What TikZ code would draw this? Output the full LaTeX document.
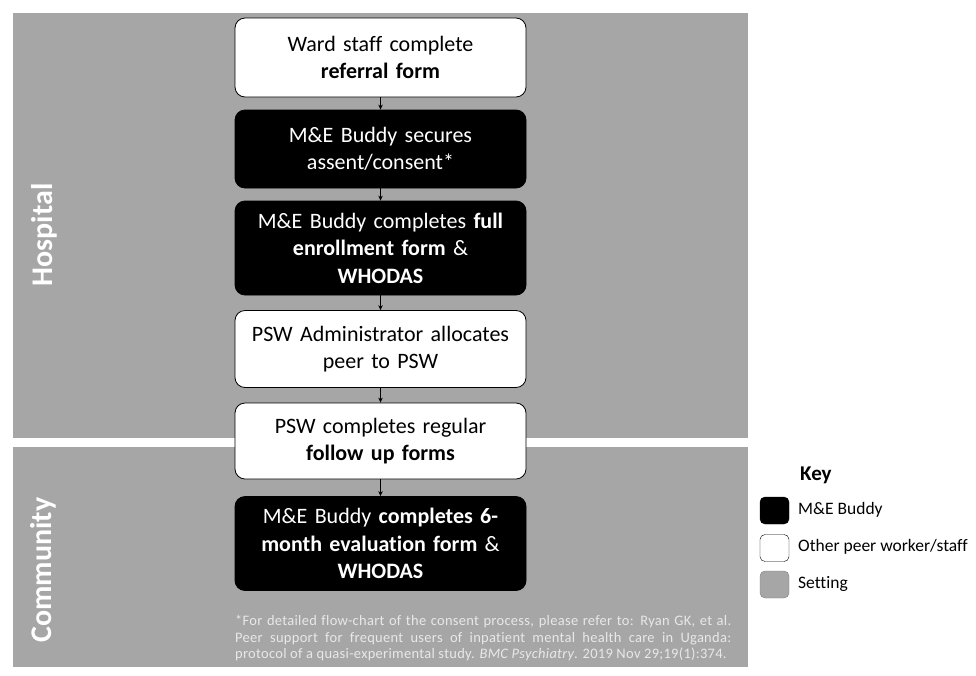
\documentclass[tikz,border=0pt]{standalone}
\usepackage{fontspec}
\setmainfont{Carlito}[Ligatures=NoCommon]
\usetikzlibrary{arrows.meta}
\definecolor{settingGray}{HTML}{A6A6A6}
\definecolor{noteGray}{HTML}{E8E8E8}
\begin{document}
\begin{tikzpicture}[x=1pt, y=-1pt,
    stepBox/.style={rectangle, rounded corners=10pt, draw=black, line width=0.8pt, fill=white, text=black, minimum width=291pt, text width=285pt, align=center, inner sep=0pt, font=\fontsize{22}{27.5}\selectfont},
    buddyBox/.style={stepBox, fill=black, text=white},
    sideLabel/.style={rotate=90, text=white, font=\fontsize{30}{34}\selectfont\bfseries},
    keySwatch/.style={rectangle, rounded corners=5pt, draw=black, minimum width=29pt, minimum height=27pt, inner sep=0pt},
    keyLabel/.style={anchor=west, inner sep=0pt, font=\fontsize{17.5}{20}\selectfont},
    flow/.style={-{Stealth[length=5pt, width=4.5pt]}, line width=0.7pt}]
    \useasboundingbox (0,0) rectangle (976,675);
    % settings
    \fill[settingGray] (13,13) rectangle (748,438);
    \fill[settingGray] (13,447) rectangle (748,667);
    \node[sideLabel](hospital) at (44,235) {Hospital};
    \node[sideLabel](community) at (43,570) {Community};

    \node[stepBox, minimum height=79pt](referral) at (380.5,57.5) {Ward staff complete\\\textbf{referral form}};
    \node[buddyBox, minimum height=78pt](consent) at (380.5,149) {M\&E Buddy secures\\assent/consent*};
    \node[buddyBox, minimum height=94pt](enrol) at (380.5,248) {M\&E Buddy completes \textbf{full}\\\textbf{enrollment form} \&\\\textbf{WHODAS}};
    \node[stepBox, minimum height=77pt](allocate) at (380.5,349) {PSW Administrator allocates\\peer to PSW};
    \node[stepBox, minimum height=76pt](followup) at (380.5,441) {PSW completes regular\\\textbf{follow up forms}};
    \node[buddyBox, minimum height=94pt](evaluation) at (380.5,543.5) {M\&E Buddy \textbf{completes 6-}\\\textbf{month evaluation form} \&\\\textbf{WHODAS}};

    \draw[flow] (referral) -- (consent);
    \draw[flow] (consent) -- (enrol);
    \draw[flow] (enrol) -- (allocate);
    \draw[flow] (allocate) -- (followup);
    \draw[flow] (followup) -- (evaluation);

    \node[text=noteGray, text width=496pt, align=justify, inner sep=0pt, anchor=north west, font=\fontsize{14.5}{16.5}\selectfont\addfontfeatures{LetterSpace=2}](note) at (235,615) {*For detailed flow-chart of the consent process, please refer to: Ryan GK, et al.\linebreak Peer support for frequent users of inpatient mental health care in Uganda:\linebreak protocol of a quasi-experimental study. \textit{BMC Psychiatry}. 2019 Nov 29;19(1):374.};

    % key
    \node[anchor=west, inner sep=0pt, font=\fontsize{21}{24}\selectfont\bfseries](key) at (800,475) {Key};
    \node[keySwatch, fill=black](keyBuddy) at (774.5,510.5) {};
    \node[keySwatch, fill=white](keyStaff) at (774.5,548) {};
    \node[keySwatch, fill=settingGray, draw=gray](keySetting) at (774.5,584.5) {};
    \node[keyLabel](buddyText) at (798,509.5) {M\&E Buddy};
    \node[keyLabel](staffText) at (798,547) {Other peer worker/staff};
    \node[keyLabel](settingText) at (798,583.5) {Setting};
\end{tikzpicture}
\end{document}
